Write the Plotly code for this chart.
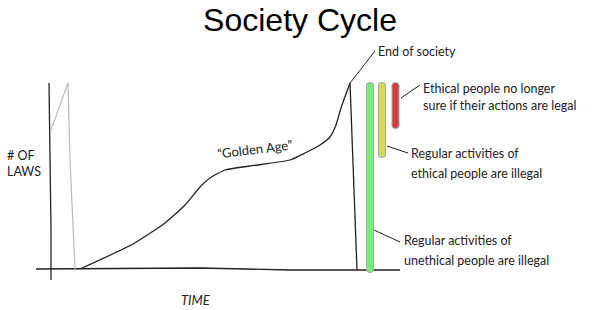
import plotly.graph_objects as go

# Hand-drawn chart, values (time units ~ px, laws = height above axis)
axis_y_time = [49, 50, 51, 51]
axis_y_laws = [187, 120, 40, -10]
axis_x_time = [36, 130, 200, 290, 400]
axis_x_laws = [1, 2, 2, 0, 0]

prev_time = [51, 68, 70, 73, 75]
prev_laws = [140, 187, 110, 40, 1]

curve_time = [80, 133, 165, 185, 200, 210, 225, 250, 290, 305, 320, 330, 336, 341, 350]
curve_laws = [1, 26, 47, 65, 83, 92, 100, 104, 110, 117, 125, 133, 145, 162, 187]
drop_time = [350, 357]
drop_laws = [187, 0]

bar_time = [370, 382, 395.5]
bar_top = [184, 184, 184]
bar_bottom = [1, 116, 145]
bar_colors = ["#77EE77", "#D6D85A", "#CC4040"]

title = "Society Cycle"
fnt = "Lato"

fig = go.Figure()
ink = "#222222"
fig.add_trace(go.Scatter(x=axis_y_time, y=axis_y_laws, mode="lines", line=dict(color=ink, width=1.3)))
fig.add_trace(go.Scatter(x=axis_x_time, y=axis_x_laws, mode="lines", line=dict(color=ink, width=1.3)))
fig.add_trace(go.Scatter(x=prev_time, y=prev_laws, mode="lines", line=dict(color="#BBBBBB", width=1.2)))
fig.add_trace(go.Scatter(x=curve_time, y=curve_laws, mode="lines", line=dict(color=ink, width=1.3, shape="spline", smoothing=0.5)))
fig.add_trace(go.Scatter(x=drop_time, y=drop_laws, mode="lines", line=dict(color=ink, width=1.3)))

for t, top, bot, c in zip(bar_time, bar_top, bar_bottom, bar_colors):
    fig.add_trace(go.Scatter(x=[t, t], y=[bot, top], mode="lines+markers",
                             line=dict(color="#AAAAAA", width=8),
                             marker=dict(color="#AAAAAA", size=8, line=dict(width=0))))
    fig.add_trace(go.Scatter(x=[t, t], y=[bot, top], mode="lines+markers",
                             line=dict(color=c, width=6),
                             marker=dict(color=c, size=6, line=dict(width=0))))

# pointer lines
pointers = [
    ([350, 375], [187, 219]),
    ([401, 420], [172, 185]),
    ([387, 408], [124, 117]),
    ([374, 400], [40, 28]),
]
for px, py in pointers:
    fig.add_trace(go.Scatter(x=px, y=py, mode="lines", line=dict(color=ink, width=1)))

def note(x, y, text, size=12.5, angle=0, anchor="left", italic=False):
    fig.add_annotation(x=x, y=y, text=text, showarrow=False, xanchor=anchor, yanchor="middle",
                       textangle=angle, align="left",
                       font=dict(family=fnt, size=size, color=ink,
                                 style="italic" if italic else "normal"))

note(376, 219, "End of society")
note(421, 182, "Ethical people no longer")
note(421, 165, "sure if their actions are legal")
note(409, 117, "Regular activities of")
note(409, 97, "ethical people are illegal")
note(402, 30, "Regular activities of")
note(402, 10, "unethical people are illegal")
note(5, 115, "# OF")
note(5, 99, "LAWS")
note(255, 121, "\u201cGolden Age\u201d", size=13, angle=-7, anchor="center")
note(196, -30, "TIME", size=13, anchor="center", italic=True)

fig.update_layout(
    width=600, height=310, margin=dict(l=0, r=0, t=0, b=0),
    paper_bgcolor="white", plot_bgcolor="white", showlegend=False,
    title=dict(text=title, x=0.5, xanchor="center", y=1 - 20 / 310, yanchor="middle",
               font=dict(family="Liberation Sans", size=32, color="black")),
    xaxis=dict(range=[0, 600], visible=False, fixedrange=True),
    yaxis=dict(range=[-40, 270], visible=False, fixedrange=True),
)
fig.write_html("out.html")
